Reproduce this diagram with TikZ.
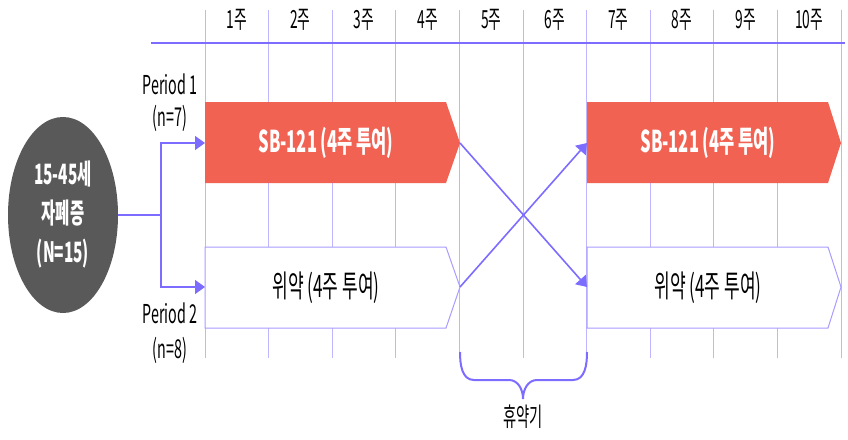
\documentclass[tikz,border=0pt]{standalone}
\usepackage{fontspec}
\setmainfont[FakeStretch=0.55]{Noto Sans CJK KR}
\usetikzlibrary{arrows.meta,shapes.geometric}
\definecolor{redc}{RGB}{242,98,82}
\definecolor{popc}{RGB}{89,89,89}
\definecolor{linec}{RGB}{124,108,255}
\definecolor{gridc}{RGB}{190,182,255}
\definecolor{boxc}{RGB}{168,156,255}
\begin{document}
\begin{tikzpicture}[x=1pt,y=-1pt,
  gridline/.style={draw=gridc,line width=0.8pt},
  axis/.style={draw=linec,line width=2.4pt},
  conn/.style={draw=linec,line width=1.6pt},
  tip/.style={-{Triangle[length=10pt,width=14pt]}},
  week/.style={font=\fontsize{25}{25}\selectfont,text=black,inner sep=0pt},
  lbl/.style={font=\fontsize{26}{26}\selectfont,text=black,inner sep=0pt},
  redtxt/.style={font=\bfseries\fontsize{30}{30}\selectfont,text=white,inner sep=0pt},
  whitetxt/.style={font=\fontsize{31}{31}\selectfont,text=black,inner sep=0pt},
  redbox/.style={fill=redc},
  whitebox/.style={draw=boxc,fill=white,line width=1pt},
  pop/.style={ellipse,fill=popc,text=white,minimum width=110pt,minimum height=196pt,inner sep=0pt,align=center,font=\bfseries\fontsize{28}{39}\selectfont},
  bracestyle/.style={draw=linec,line width=2pt}]
\useasboundingbox (0,0) rectangle (848,439);
% grid
\foreach \i in {0,...,10} {
  \draw[gridline] ({205+63.6*\i},10) -- ({205+63.6*\i},358);
}
\draw[axis] (151,43) -- (845,43);
\foreach \i in {1,...,10} {
  \node[week] (w\i) at ({205+63.6*(\i-0.5)},20) {{\i}주};
}
% boxes
\fill[redbox] (205,102) -- (446,102) -- (460,143) -- (446,183) -- (205,183) -- cycle;
\node[redtxt] (sb1) at (326,143) {SB-121 (4주 투여)};
\fill[redbox] (587,102) -- (828,102) -- (841,143) -- (828,183) -- (587,183) -- cycle;
\node[redtxt] (sb2) at (708,143) {SB-121 (4주 투여)};
\draw[whitebox] (205,247) -- (446,247) -- (460,287) -- (446,328) -- (205,328) -- cycle;
\node[whitetxt] (pl1) at (326,288) {위약 (4주 투여)};
\draw[whitebox] (587,247) -- (828,247) -- (841,287) -- (828,328) -- (587,328) -- cycle;
\node[whitetxt] (pl2) at (708,288) {위약 (4주 투여)};
\coordinate (in1) at (205,143);
\coordinate (in2) at (205,287);
\coordinate (t1) at (460,143);
\coordinate (t2) at (460,287);
\coordinate (in3) at (587,143);
\coordinate (in4) at (587,287);
% population
\node[pop] (popn) at (63,215) {15-45세\\자폐증\\(N=15)};
\coordinate (split) at (161,215);
\draw[conn] (popn.east) -- (split);
\draw[conn,tip] (split) |- (in1);
\draw[conn,tip] (split) |- (in2);
\draw[conn,tip] (t1) -- (in4);
\draw[conn,tip] (t2) -- (in3);
% period labels
\node[lbl] (p1) at (170,84) {Period 1};
\node[lbl] (n1) at (170,118) {(n=7)};
\node[lbl] (p2) at (170,313) {Period 2};
\node[lbl] (n2) at (170,350) {(n=8)};
% washout brace
\draw[bracestyle] (460,352) to[out=-90,in=180] (474,380) -- (509,380) to[out=0,in=90] (523,399) to[out=90,in=180] (537,380) -- (573,380) to[out=0,in=-90] (587,352);
\node[lbl] (rest) at (523,417) {휴약기};
\end{tikzpicture}
\end{document}
